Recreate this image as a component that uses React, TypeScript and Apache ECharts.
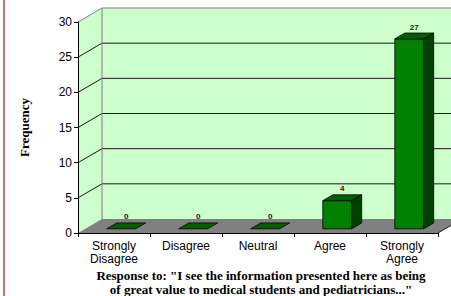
import React, { useEffect, useRef } from "react";
import * as echarts from "echarts";

const categories = ["Strongly\nDisagree", "Disagree", "Neutral", "Agree", "Strongly\nAgree"];
const frequencies = [0, 0, 0, 4, 27];
const yTicks = [0, 5, 10, 15, 20, 25, 30];
const yAxisTitle = "Frequency";
const xAxisTitleLines = [
  'Response to: "I see the information presented here as being',
  'of great value to medical students and pediatricians..."',
];

// 3D depth of the plot box, in pixels
const DEPTH_X = 24;
const DEPTH_Y = -14;

export default function App() {
  const ref = useRef<HTMLDivElement>(null);

  useEffect(() => {
    if (!ref.current) return;
    const chart = echarts.init(ref.current, null, { renderer: "svg" });

    const wallRender = (params: any, api: any) => {
      const cs = params.coordSys;
      const x0 = cs.x;
      const x1 = cs.x + cs.width;
      const yBase = api.coord([0, 0])[1];
      const yTop = api.coord([0, yTicks[yTicks.length - 1]])[1];
      const children: any[] = [];
      children.push({
        type: "polygon",
        shape: {
          points: [
            [x0, yTop],
            [x0 + DEPTH_X, yTop + DEPTH_Y],
            [x0 + DEPTH_X, yBase + DEPTH_Y],
            [x0, yBase],
          ],
        },
        style: { fill: "#ccffcc", stroke: null },
      });
      children.push({
        type: "rect",
        shape: {
          x: x0 + DEPTH_X,
          y: yTop + DEPTH_Y,
          width: x1 - x0,
          height: yBase - yTop,
        },
        style: { fill: "#ccffcc", stroke: null },
      });
      children.push({
        type: "polygon",
        shape: {
          points: [
            [x0, yBase],
            [x1, yBase],
            [x1 + DEPTH_X, yBase + DEPTH_Y],
            [x0 + DEPTH_X, yBase + DEPTH_Y],
          ],
        },
        style: { fill: "#808080", stroke: null },
      });
      yTicks.forEach((t, i) => {
        if (t === 0) return;
        const y = api.coord([0, t])[1];
        const isTop = i === yTicks.length - 1;
        const color = isTop ? "#808080" : "#1a1a1a";
        children.push({
          type: "line",
          shape: { x1: x0, y1: y, x2: x0 + DEPTH_X, y2: y + DEPTH_Y },
          style: { stroke: color, lineWidth: 1 },
        });
        children.push({
          type: "line",
          shape: { x1: x0 + DEPTH_X, y1: y + DEPTH_Y, x2: x1 + DEPTH_X, y2: y + DEPTH_Y },
          style: { stroke: color, lineWidth: 1 },
        });
      });
      children.push({
        type: "line",
        shape: { x1: x0 + DEPTH_X, y1: yTop + DEPTH_Y, x2: x0 + DEPTH_X, y2: yBase + DEPTH_Y },
        style: { stroke: "#808080", lineWidth: 1 },
      });
      children.push({
        type: "line",
        shape: { x1: x1, y1: yBase, x2: x1 + DEPTH_X, y2: yBase + DEPTH_Y },
        style: { stroke: "#1a1a1a", lineWidth: 1 },
      });
      return { type: "group", children };
    };

    const barRender = (params: any, api: any) => {
      const idx = api.value(0);
      const val = api.value(1);
      const base = api.coord([idx, 0]);
      const top = api.coord([idx, val]);
      const band = api.size([1, 0])[0];
      const w = band * 0.4;
      const fx = DEPTH_X * 0.3;
      const fy = DEPTH_Y * 0.3;
      const sx = DEPTH_X * 0.42;
      const sy = DEPTH_Y * 0.42;
      const left = base[0] - w / 2 + fx;
      const right = left + w;
      const yb = base[1] + fy;
      const yt = top[1] + fy;
      const children: any[] = [];
      if (val > 0) {
        children.push({
          type: "polygon",
          shape: {
            points: [
              [right, yt],
              [right + sx, yt + sy],
              [right + sx, yb + sy],
              [right, yb],
            ],
          },
          style: { fill: "#004000", stroke: "#000", lineWidth: 0.8 },
        });
        children.push({
          type: "rect",
          shape: { x: left, y: yt, width: w, height: yb - yt },
          style: { fill: "#008000", stroke: "#000", lineWidth: 0.8 },
        });
      }
      children.push({
        type: "polygon",
        shape: {
          points: [
            [left, yt],
            [right, yt],
            [right + sx, yt + sy],
            [left + sx, yt + sy],
          ],
        },
        style: { fill: "#006000", stroke: "#000", lineWidth: 0.8 },
      });
      children.push({
        type: "text",
        style: {
          text: String(val),
          x: left + w / 2 + sx / 2,
          y: yt + sy - 2,
          align: "center",
          verticalAlign: "bottom",
          fill: "#222",
          font: "bold 8px Arial, 'Liberation Sans', sans-serif",
        },
      });
      return { type: "group", children };
    };

    chart.setOption({
      animation: false,
      backgroundColor: "#ffffff",
      grid: { left: 78, right: 13, top: 22, bottom: 63 },
      xAxis: {
        type: "category",
        data: categories,
        z: 5,
        axisLine: { lineStyle: { color: "#000", width: 1 } },
        axisTick: { show: true, length: 4, lineStyle: { color: "#000" } },
        axisLabel: {
          color: "#000",
          fontFamily: "Arial, 'Liberation Sans', sans-serif",
          fontSize: 12,
          lineHeight: 13,
          margin: 6,
          interval: 0,
        },
      },
      yAxis: {
        type: "value",
        min: 0,
        max: 30,
        interval: 5,
        z: 5,
        axisLine: { show: true, lineStyle: { color: "#000", width: 1 } },
        axisTick: { show: true, length: 4, lineStyle: { color: "#000" } },
        splitLine: { show: false },
        axisLabel: {
          color: "#000",
          fontFamily: "Arial, 'Liberation Sans', sans-serif",
          fontSize: 12,
          margin: 6,
        },
        name: yAxisTitle,
        nameLocation: "middle",
        nameGap: 47,
        nameTextStyle: {
          color: "#000",
          fontFamily: "'Liberation Serif', 'Times New Roman', serif",
          fontWeight: "bold",
          fontSize: 13,
        },
      },
      graphic: [
        {
          type: "rect",
          shape: { x: 3, y: 0, width: 2, height: 296 },
          style: { fill: "#c07878" },
        },
        {
          type: "text",
          style: {
            text: xAxisTitleLines.join("\n"),
            x: 261,
            y: 268,
            align: "center",
            verticalAlign: "top",
            lineHeight: 14,
            fill: "#000",
            font: "bold 13px 'Liberation Serif', 'Times New Roman', serif",
          },
        },
      ],
      series: [
        {
          type: "custom",
          z: 1,
          silent: true,
          renderItem: wallRender,
          data: [[0, 0]],
        },
        {
          type: "custom",
          z: 6,
          renderItem: barRender,
          data: frequencies.map((v, i) => [i, v]),
        },
      ],
    });

    return () => chart.dispose();
  }, []);

  return (
    <div
      ref={ref}
      style={{ position: "fixed", left: 0, top: 0, width: 451, height: 296 }}
    />
  );
}
